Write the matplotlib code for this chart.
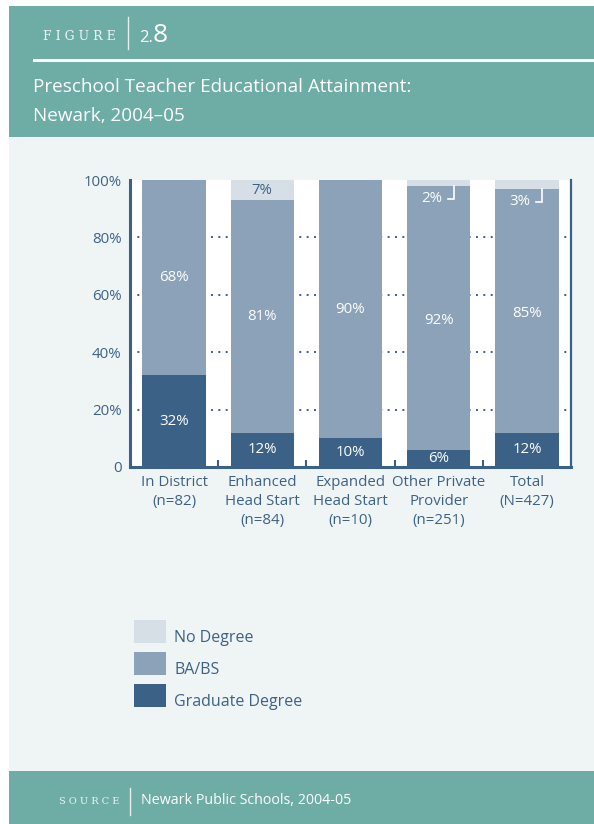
import matplotlib.pyplot as plt
from matplotlib.patches import Rectangle
from matplotlib.lines import Line2D

plt.rcParams['font.family'] = ['Open Sans', 'DejaVu Sans']
plt.rcParams['lines.scale_dashes'] = False

# data (percent of teachers)
programs = ['In District\n(n=82)', 'Enhanced\nHead Start\n(n=84)', 'Expanded\nHead Start\n(n=10)',
            'Other Private\nProvider\n(n=251)', 'Total\n(N=427)']
graduate = [32, 12, 10, 6, 12]
ba_bs = [68, 81, 90, 92, 85]
no_degree = [0, 7, 0, 2, 3]
yticks = [0, 20, 40, 60, 80, 100]
ytick_labels = ['0', '20%', '40%', '60%', '80%', '100%']

TEAL = '#6dada5'
PALE = '#eff5f5'
DARK = '#3c6186'
MID = '#8ba2b8'
LIGHT = '#d6dfe6'
TXT = '#3d6186'

W, H = 594, 824
fig = plt.figure(figsize=(W / 100, H / 100), dpi=100)


def fx(x):
    return x / W


def fy(y):
    return 1 - y / H


def box(x0, y0, x1, y1, color):
    fig.add_artist(Rectangle((fx(x0), fy(y1)), fx(x1 - x0), (y1 - y0) / H,
                             transform=fig.transFigure, color=color, lw=0, zorder=0))


# page frame: header, body, footer
box(9, 6, W, 137, TEAL)
box(33, 59, W, 62, 'white')
box(9, 137, W, 771, PALE)
box(9, 771, W, H, TEAL)

fig.text(fx(43), fy(36.5), 'F I G U R E', family='DejaVu Serif', fontsize=9,
         color='#eef4f3', va='center', ha='left')
fig.add_artist(Line2D([fx(128), fx(128)], [fy(17), fy(49)], color='#e6efee', lw=1,
                      transform=fig.transFigure))
fig.text(fx(139), fy(41.5), '2.', fontsize=12, color='white', va='baseline', ha='left')
fig.text(fx(153), fy(41.5), '8', fontsize=19, color='white', va='baseline', ha='left')
fig.text(fx(33), fy(92), 'Preschool Teacher Educational Attainment:', fontsize=13.6,
         color='white', va='baseline', ha='left', fontweight='medium')
fig.text(fx(33), fy(121), 'Newark, 2004\u201305', fontsize=13.6,
         color='white', va='baseline', ha='left', fontweight='medium')

fig.text(fx(59), fy(801), 'S O U R C E', family='DejaVu Serif', fontsize=7,
         color='#eef4f3', va='center', ha='left')
fig.add_artist(Line2D([fx(130), fx(130)], [fy(788), fy(815)], color='#e6efee', lw=1,
                      transform=fig.transFigure))
fig.text(fx(141), fy(801), 'Newark Public Schools, 2004-05', fontsize=10.3,
         color='white', va='center', ha='left')

# chart
ax = fig.add_axes([fx(130), fy(467), fx(571 - 130), (467 - 180) / H])
ax.set_facecolor('white')
x = list(range(len(programs)))
bw = 0.72
top = [g + b for g, b in zip(graduate, ba_bs)]
ax.bar(x, graduate, bw, color=DARK, zorder=2)
ax.bar(x, ba_bs, bw, bottom=graduate, color=MID, zorder=2)
ax.bar(x, no_degree, bw, bottom=top, color=LIGHT, zorder=2)

ax.set_xlim(-0.5, len(programs) - 0.5)
ax.set_ylim(0, 100)
ax.hlines(yticks[1:-1], -0.5, len(programs) - 0.5, colors=DARK, lw=1.4,
          linestyles=[(0, (1.4, 3.9))], zorder=1)

ax.set_yticks(yticks)
ax.set_yticklabels(ytick_labels)
ax.set_xticks(x)
ax.set_xticklabels(programs, linespacing=1.35)
ax.set_xticks([i + 0.5 for i in x[:-1]], minor=True)
ax.tick_params(axis='both', which='major', length=0, labelsize=10.8, labelcolor=TXT)
ax.tick_params(axis='x', which='major', pad=6)
ax.tick_params(axis='y', which='major', pad=6)
ax.tick_params(axis='x', which='minor', direction='in', length=5, width=1.5, color=DARK)

for s in ['left', 'bottom']:
    ax.spines[s].set_linewidth(2.2)
    ax.spines[s].set_color(DARK)
ax.spines['right'].set_linewidth(1.6)
ax.spines['right'].set_color(DARK)
ax.spines['top'].set_visible(False)
for sp in ax.spines.values():
    sp.set_zorder(4)

# segment labels
lab = dict(ha='center', va='center', fontsize=10.8, zorder=3)
for i in x:
    ax.text(i, graduate[i] / 2, f'{graduate[i]}%', color='white', **lab)
    if no_degree[i] >= 5:
        ax.text(i, graduate[i] + ba_bs[i] / 2, f'{ba_bs[i]}%', color='white', **lab)
        ax.text(i, top[i] + no_degree[i] / 2, f'{no_degree[i]}%', color=TXT, **lab)
    elif no_degree[i] > 0:
        ax.text(i, graduate[i] + ba_bs[i] / 2 - 1, f'{ba_bs[i]}%', color='white', **lab)
        ax.text(i - 0.08, top[i] - 4.6, f'{no_degree[i]}%', color='white', **lab)
        ax.plot([i + 0.1, i + 0.17, i + 0.17], [top[i] - 4.6, top[i] - 4.6, top[i]],
                color='white', lw=1.2, zorder=3, solid_joinstyle='miter')
    else:
        ax.text(i, graduate[i] + ba_bs[i] / 2, f'{ba_bs[i]}%', color='white', **lab)

# legend
legend_items = [('No Degree', LIGHT), ('BA/BS', MID), ('Graduate Degree', DARK)]
for k, (name, col) in enumerate(legend_items):
    y0 = 620 + 32 * k
    box(134, y0, 166, y0 + 23, col)
    fig.text(fx(174), fy(y0 + 18), name, fontsize=11.5, color=TXT, va='center', ha='left')

fig.savefig('out.png', dpi=100)
